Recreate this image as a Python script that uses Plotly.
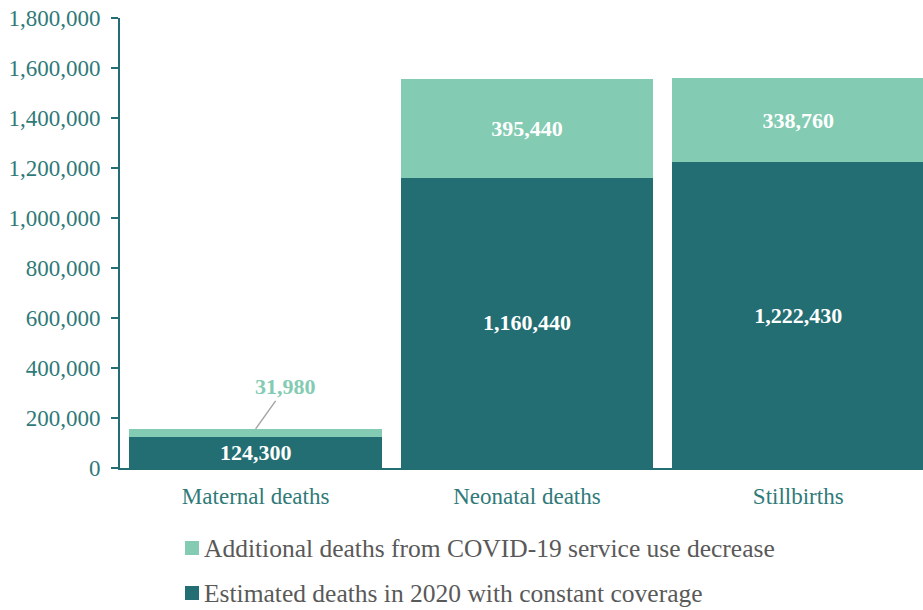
import plotly.graph_objects as go

categories = ["Maternal deaths", "Neonatal deaths", "Stillbirths"]
estimated = [124300, 1160440, 1222430]
additional = [31980, 395440, 338760]
series_names = ["Estimated deaths in 2020 with constant coverage",
                "Additional deaths from COVID-19 service use decrease"]
y_ticks = [0, 200000, 400000, 600000, 800000, 1000000, 1200000, 1400000, 1600000, 1800000]

DARK = "#236e72"
LIGHT = "#83cbb2"
TEAL_TXT = "#2f7a79"
SERIF = "Liberation Serif"

W, H = 923, 610
ML, MR, MT, MB = 120, 0, 18, 142
PW, PH = W - ML - MR, H - MT - MB


def px(x):
    return (x - ML) / PW


def py(y):
    return (H - MB - y) / PH


fig = go.Figure()
fig.add_trace(go.Bar(
    x=categories, y=estimated, name=series_names[0], marker_color=DARK,
    marker_line_width=0, showlegend=False,
    text=[f"<b>{v:,}</b>" for v in estimated], textposition="inside",
    insidetextanchor="middle", constraintext="none",
    textfont=dict(family=SERIF, size=22, color="white"),
))
add_text = [("" if i == 0 else f"<b>{v:,}</b>") for i, v in enumerate(additional)]
fig.add_trace(go.Bar(
    x=categories, y=additional, name=series_names[1], marker_color=LIGHT,
    marker_line_width=0, showlegend=False,
    text=add_text, textposition="inside",
    insidetextanchor="middle", constraintext="none",
    textfont=dict(family=SERIF, size=22, color="white"),
))

# callout for small maternal additional value
fig.add_annotation(
    x=categories[0], y=estimated[0] + additional[0], xref="x", yref="y",
    text=f"<b>{additional[0]:,}</b>", showarrow=True, arrowhead=0,
    arrowcolor="#a6a6a6", arrowwidth=1.5, ax=30, ay=-42,
    font=dict(family=SERIF, size=22, color=LIGHT),
)

# legend drawn as shapes + text (Additional on top, Estimated below)
legend_rows = [(series_names[1], LIGHT, 548), (series_names[0], DARK, 593)]
for name, col, yc in legend_rows:
    fig.add_shape(type="rect", xref="paper", yref="paper",
                  x0=px(185), x1=px(199), y0=py(yc - 7), y1=py(yc + 7),
                  fillcolor=col, line_width=0)
    fig.add_annotation(xref="paper", yref="paper", x=px(203), y=py(yc),
                       xanchor="left", yanchor="middle", showarrow=False,
                       text=name, borderpad=0,
                       font=dict(family=SERIF, size=25.5, color="#595959"))

fig.update_layout(
    width=W, height=H, autosize=False,
    margin=dict(l=ML, r=MR, t=MT, b=MB),
    paper_bgcolor="white", plot_bgcolor="white",
    barmode="stack", bargap=0.07,
    showlegend=False,
    xaxis=dict(
        range=[-0.5, 2.46], showline=True, linecolor=DARK, linewidth=2,
        ticks="", showgrid=False,
        tickfont=dict(family=SERIF, size=23, color=TEAL_TXT),
        ticklabelstandoff=6,
    ),
    yaxis=dict(
        range=[0, 1800000], tickvals=y_ticks,
        ticktext=[f"{v:,}" for v in y_ticks],
        showline=True, linecolor=DARK, linewidth=2,
        ticks="outside", ticklen=7, tickwidth=2, tickcolor=DARK,
        showgrid=False, zeroline=False,
        tickfont=dict(family=SERIF, size=23, color=TEAL_TXT),
        ticklabelstandoff=6,
    ),
    yaxis2=dict(
        overlaying="y", matches="y", side="left", anchor="x",
        range=[0, 1800000], tickvals=y_ticks,
        ticks="inside", ticklen=7, tickwidth=2, tickcolor=DARK,
        showticklabels=False, showgrid=False, zeroline=False, showline=False,
    ),
)

fig.write_html("out.html")
